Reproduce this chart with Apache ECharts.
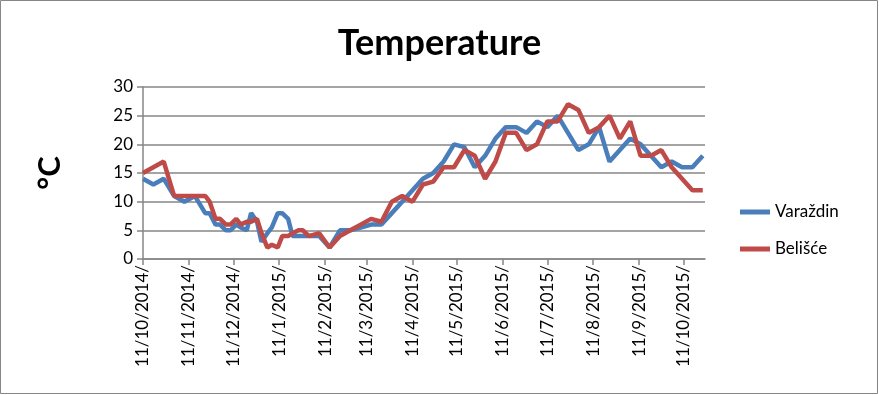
<!DOCTYPE html>
<html>
<head>
<meta charset="utf-8">
<script src="https://cdn.jsdelivr.net/npm/echarts@6/dist/echarts.min.js"></script>
<style>
html,body{margin:0;padding:0;background:#fff;}
#chart{width:879px;height:395px;}
</style>
</head>
<body>
<div id="chart"></div>
<script>
// Measurement dates (shared by both series)
const dates = [
  '2014-10-11','2014-10-18','2014-10-25','2014-11-01','2014-11-08','2014-11-15','2014-11-22','2014-11-25',
  '2014-11-29','2014-12-02','2014-12-06','2014-12-09','2014-12-13','2014-12-16','2014-12-20','2014-12-23',
  '2014-12-27','2014-12-30','2015-01-03','2015-01-06','2015-01-10','2015-01-13','2015-01-17','2015-01-20',
  '2015-01-24','2015-01-27','2015-01-31','2015-02-07','2015-02-14','2015-02-21','2015-02-28','2015-03-07',
  '2015-03-14','2015-03-21','2015-03-28','2015-04-04','2015-04-11','2015-04-18','2015-04-25','2015-05-02',
  '2015-05-09','2015-05-16','2015-05-23','2015-05-30','2015-06-06','2015-06-13','2015-06-20','2015-06-27',
  '2015-07-04','2015-07-11','2015-07-18','2015-07-25','2015-08-01','2015-08-08','2015-08-15','2015-08-22',
  '2015-08-29','2015-09-05','2015-09-12','2015-09-19','2015-09-26','2015-10-03','2015-10-10','2015-10-17',
  '2015-10-24'
];
const varazdin = [
  14,13,14,11,10,11,8,8,
  6,6,5,5,6,5.5,5,8,
  6.5,3,4.5,5.5,8,8,7,4,
  4,4,4,4,2,5,5,5.5,
  6,6,8,10,12,14,15,17,
  20,19.5,16,18,21,23,23,22,
  24,23,25,22,19,20,23,17,
  19,21,20,18,16,17,16,16,
  18
];
const belisce = [
  15,16,17,11,11,11,11,10,
  7,7,6,6,7,6,6.5,6.5,
  7,4.5,2,2.5,2,4,4,4.5,
  5,5,4,4.5,2,4,5,6,
  7,6.5,10,11,10,13,13.5,16,
  16,19,18,14,17,22,22,19,
  20,24,24,27,26,22,23,25,
  21,24,18,18,19,16,14,12,
  12
];
// x-axis tick dates (labels)
const tickDates = [
  '2014-10-11','2014-11-11','2014-12-11','2015-01-11','2015-02-11','2015-03-11','2015-04-11',
  '2015-05-11','2015-06-11','2015-07-11','2015-08-11','2015-09-11','2015-10-11'
];
const seriesNames = ['Varaždin', 'Belišće'];

const ts = d => Date.parse(d + 'T00:00:00Z');
const tickTs = tickDates.map(ts);
const FONT = 'Lato';

const chart = echarts.init(document.getElementById('chart'));
chart.setOption({
  animation: false,
  backgroundColor: '#fff',
  title: {
    text: 'Temperature',
    left: 'center',
    top: 20,
    textStyle: { fontFamily: FONT, fontSize: 36, fontWeight: 'bold', color: '#000' }
  },
  legend: {
    orient: 'vertical',
    left: 735,
    top: 197,
    itemWidth: 30,
    itemHeight: 5,
    itemGap: 17,
    icon: 'rect',
    textStyle: { fontFamily: FONT, fontSize: 17, color: '#000', lineHeight: 20 },
    data: seriesNames
  },
  grid: { left: 143, right: 174, top: 87, bottom: 136, containLabel: false },
  xAxis: {
    type: 'value',
    min: ts('2014-10-11'),
    max: ts('2015-10-25') + 12 * 3600 * 1000,
    splitLine: { show: false },
    axisLine: { lineStyle: { color: '#868686', width: 1.5 } },
    axisTick: { show: true, customValues: tickTs, length: 6, lineStyle: { color: '#868686', width: 1.5 } },
    axisLabel: {
      customValues: tickTs,
      rotate: 90,
      margin: 6,
      fontFamily: FONT,
      fontSize: 17,
      color: '#000',
      formatter: v => {
        const d = new Date(v);
        return d.getUTCDate() + '/' + (d.getUTCMonth() + 1) + '/' + d.getUTCFullYear() + '/';
      }
    }
  },
  yAxis: {
    type: 'value',
    min: 0,
    max: 30,
    interval: 5,
    name: '°C',
    nameLocation: 'middle',
    nameRotate: 90,
    nameGap: 78,
    nameTextStyle: { fontFamily: FONT, fontSize: 31, fontWeight: 'bold', color: '#000' },
    axisLine: { show: true, lineStyle: { color: '#868686', width: 1.5 } },
    axisTick: { show: true, length: 6, lineStyle: { color: '#868686', width: 1.5 } },
    axisLabel: { fontFamily: FONT, fontSize: 17, color: '#000', margin: 10 },
    splitLine: { lineStyle: { color: '#868686', width: 1.5 } }
  },
  series: [
    {
      name: seriesNames[0],
      type: 'line',
      symbol: 'none',
      color: '#4A7EBB',
      lineStyle: { width: 4.5, color: '#4A7EBB' },
      data: dates.map((d, i) => [ts(d), varazdin[i]]),
      z: 2
    },
    {
      name: seriesNames[1],
      type: 'line',
      symbol: 'none',
      color: '#BE4B48',
      lineStyle: { width: 4.5, color: '#BE4B48' },
      data: dates.map((d, i) => [ts(d), belisce[i]]),
      z: 3
    }
  ],
  graphic: [{
    type: 'rect',
    shape: { x: 0.5, y: 0.5, width: 877, height: 393 },
    style: { fill: null, stroke: '#868686', lineWidth: 1 },
    silent: true
  }]
});
</script>
</body>
</html>
